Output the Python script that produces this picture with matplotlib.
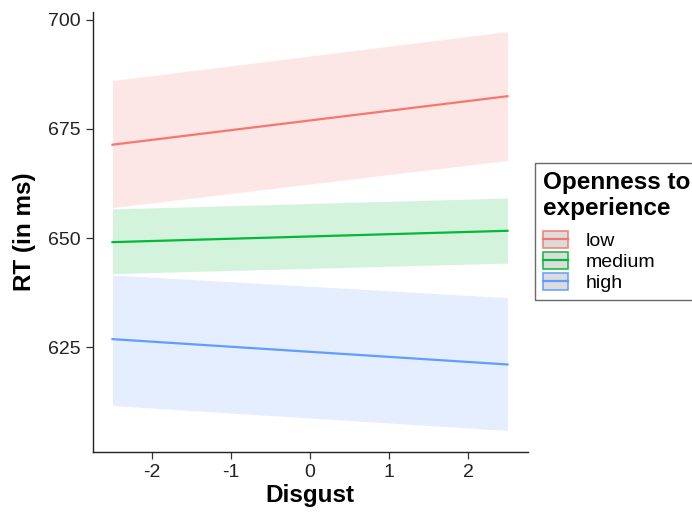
import matplotlib.pyplot as plt
from matplotlib.patches import Patch
from matplotlib.lines import Line2D

plt.rcParams['font.family'] = ['Liberation Sans', 'DejaVu Sans']
plt.rcParams['axes.unicode_minus'] = False

# data
disgust = [-2.5, 2.5]
groups = ['low', 'medium', 'high']
colors = ['#F8766D', '#00BA38', '#619CFF']
rt_fit = {
    'low': [671.4, 682.5],
    'medium': [649.1, 651.7],
    'high': [626.9, 621.1],
}
rt_upper = {
    'low': [686.1, 697.3],
    'medium': [656.7, 659.2],
    'high': [641.6, 636.4],
}
rt_lower = {
    'low': [657.0, 667.8],
    'medium': [641.9, 644.3],
    'high': [611.7, 606.0],
}
x_ticks = [-2, -1, 0, 1, 2]
y_ticks = [625, 650, 675, 700]

fig = plt.figure(figsize=(6.92, 5.17), dpi=100)
ax = fig.add_axes([0.134, 0.126, 0.629, 0.851])

handles = []
for g, c in zip(groups, colors):
    ax.fill_between(disgust, rt_lower[g], rt_upper[g], color=c, alpha=0.17, lw=0)
    ax.plot(disgust, rt_fit[g], color=c, lw=1.6)
    handles.append((Patch(facecolor='#D9D9D9', edgecolor=c, alpha=0.9, lw=1.2),
                    Line2D([], [], color=c, lw=1.6)))

ax.set_xlim(-2.75, 2.76)
ax.set_ylim(601.1, 701.8)
ax.set_xticks(x_ticks)
ax.set_yticks(y_ticks)
ax.tick_params(labelsize=14, colors='#333333', length=5, width=0.9,
               labelcolor='#222222', pad=4)
for s in ['top', 'right']:
    ax.spines[s].set_visible(False)
for s in ['left', 'bottom']:
    ax.spines[s].set_linewidth(1.0)
    ax.spines[s].set_color('#222222')

ax.set_xlabel('Disgust', fontsize=17.5, fontweight='bold', labelpad=2)
ax.set_ylabel('RT (in ms)', fontsize=17.5, fontweight='bold', labelpad=8)

leg = fig.legend(handles, groups, loc='upper left', bbox_to_anchor=(0.773, 0.685),
                 title='Openness to\nexperience', fontsize=14,
                 title_fontproperties={'weight': 'bold', 'size': 17.5},
                 frameon=True, fancybox=False, edgecolor='#444444',
                 handlelength=1.3, handleheight=0.95, handletextpad=0.9,
                 labelspacing=0.1, borderpad=0.4, borderaxespad=0)
leg._legend_box.align = 'left'
leg._legend_box.sep = 8
leg.get_frame().set_linewidth(1.0)

fig.savefig('out.png', dpi=100)
